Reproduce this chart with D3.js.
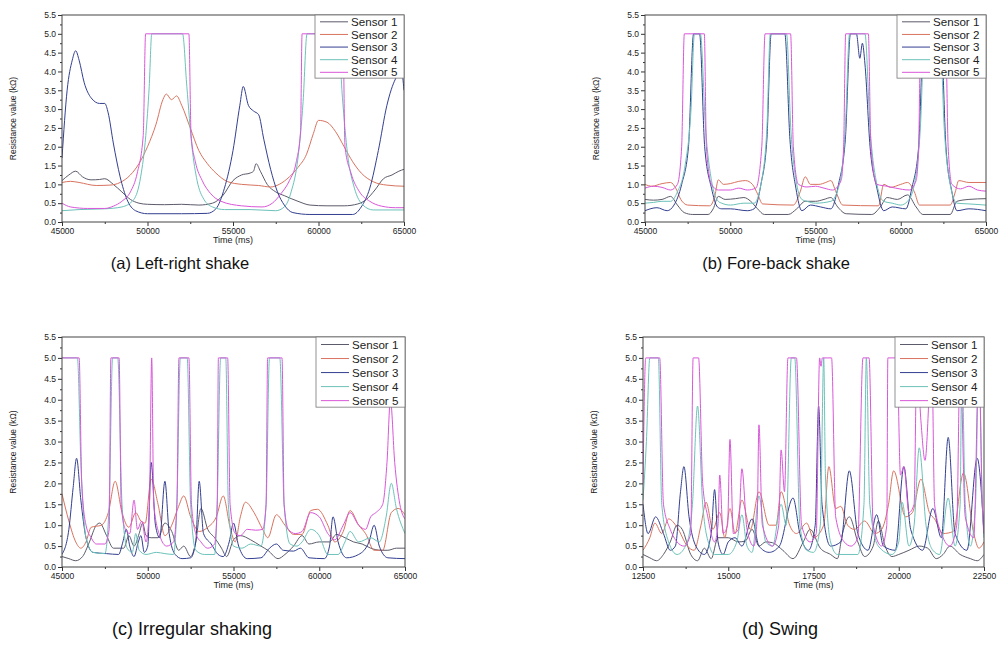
<!DOCTYPE html>
<html>
<head>
<meta charset="utf-8">
<script src="https://cdn.jsdelivr.net/npm/d3@7/dist/d3.min.js"></script>
<style>
  body { margin: 0; background: #fff; }
  svg { display: block; font-family: "Liberation Sans", Arial, sans-serif; }
  .tick text { fill: #222; }
</style>
</head>
<body>
<svg id="chart" width="1004" height="653"></svg>
<script>
// sensor names and colours
var sensorNames = ["Sensor 1", "Sensor 2", "Sensor 3", "Sensor 4", "Sensor 5"];
var sensorColors = ["#5b5b6b", "#d8735f", "#333f90", "#6cc2b9", "#d957d9"];

// ---- (a) Left-right shake : [time ms, resistance kOhm]
var a_s1 = [[45000,1.1],[45400,1.25],[45800,1.35],[46200,1.2],[46700,1.12],[47200,1.13],[47500,1.15],[48000,1.0],[48500,0.8],[49000,0.6],[49500,0.5],[50000,0.47],[51000,0.46],[52000,0.47],[53000,0.45],[53800,0.5],[54400,0.7],[55000,1.1],[55500,1.25],[56000,1.3],[56200,1.35],[56350,1.55],[56600,1.35],[57000,1.0],[57500,0.8],[58000,0.7],[58800,0.55],[59500,0.45],[60500,0.43],[61500,0.43],[62300,0.48],[62800,0.6],[63300,0.85],[63800,1.15],[64300,1.25],[64700,1.35],[65000,1.4]];
var a_s2 = [[45000,1.05],[45500,1.08],[46000,1.05],[47000,0.97],[47800,0.98],[48400,1.05],[49000,1.25],[49500,1.55],[50000,2.0],[50500,2.6],[50900,3.25],[51100,3.4],[51400,3.25],[51700,3.35],[52000,3.1],[52500,2.5],[53000,1.9],[53500,1.55],[54000,1.3],[54700,1.07],[55500,1.0],[56500,0.97],[57200,0.93],[57700,1.0],[58300,1.2],[58800,1.45],[59300,1.8],[59700,2.35],[60000,2.7],[60500,2.65],[61000,2.4],[61500,2.0],[62000,1.6],[62500,1.3],[63200,1.07],[64000,0.98],[65000,0.95]];
var a_s3 = [[45000,1.7],[45300,3.5],[45600,4.3],[45800,4.55],[46000,4.3],[46300,3.7],[46700,3.3],[47200,3.15],[47500,3.15],[47700,2.9],[48000,2.1],[48400,1.2],[48800,0.6],[49300,0.3],[50000,0.22],[52000,0.22],[53500,0.23],[54000,0.35],[54500,0.9],[55000,1.9],[55400,3.1],[55600,3.6],[55900,3.1],[56200,2.95],[56500,2.85],[56800,2.2],[57200,1.4],[57600,0.8],[58000,0.45],[58500,0.25],[59500,0.2],[62000,0.2],[62500,0.4],[63000,0.9],[63500,1.9],[64000,3.1],[64500,3.8],[64850,4.0],[65000,3.5]];
var a_s4 = [[45000,0.3],[46000,0.33],[47500,0.35],[48500,0.4],[49200,0.6],[49600,1.2],[49900,2.3],[50100,3.6],[50250,5.0],[52050,5.0],[52300,3.6],[52600,2.0],[52900,1.1],[53300,0.6],[53800,0.4],[54500,0.33],[56000,0.33],[57500,0.3],[58000,0.4],[58400,0.8],[58800,1.7],[59100,3.2],[59330,5.0],[61140,5.0],[61400,3.3],[61700,1.8],[62100,0.9],[62600,0.45],[63200,0.32],[65000,0.32]];
var a_s5 = [[45000,0.5],[45500,0.4],[46500,0.36],[47500,0.36],[48000,0.42],[48500,0.55],[49000,0.8],[49400,1.3],[49750,2.3],[49890,5.0],[52420,5.0],[52550,2.3],[52800,1.6],[53200,1.1],[53700,0.75],[54300,0.55],[55500,0.43],[56700,0.4],[57300,0.5],[57800,0.75],[58300,1.1],[58700,1.6],[58950,2.4],[59040,5.0],[61430,5.0],[61550,2.0],[61900,1.3],[62400,0.8],[63000,0.55],[63700,0.42],[64500,0.38],[65000,0.38]];

// ---- (b) Fore-back shake
var b_s1 = [[45000,0.6],[45500,0.58],[46000,0.6],[46500,0.68],[46900,0.45],[47300,0.25],[47800,0.2],[48700,0.2],[49000,0.35],[49300,0.68],[49700,0.6],[50300,0.62],[50800,0.65],[51200,0.55],[51600,0.35],[52000,0.2],[53400,0.2],[53900,0.35],[54400,0.55],[55000,0.55],[55500,0.6],[55900,0.65],[56300,0.4],[56800,0.22],[58300,0.2],[58800,0.4],[59200,0.65],[59800,0.6],[60400,0.72],[60900,0.4],[61300,0.2],[62900,0.2],[63300,0.55],[64000,0.6],[65000,0.62]];
var b_s2 = [[45000,1.0],[45400,0.95],[46000,1.02],[46500,1.05],[46800,0.9],[47100,0.6],[47500,0.45],[48800,0.43],[49100,0.7],[49300,1.12],[49600,1.0],[50000,1.02],[50500,1.08],[50900,1.1],[51300,1.0],[51600,0.75],[51900,0.48],[53700,0.45],[54100,0.8],[54400,1.2],[54700,1.0],[55200,1.0],[55600,1.05],[55900,1.1],[56200,0.8],[56600,0.45],[58700,0.43],[59000,1.0],[59400,0.92],[60000,1.0],[60400,1.05],[60800,0.8],[61100,0.45],[62900,0.45],[63200,0.8],[63400,1.1],[64000,1.05],[65000,1.05]];
var b_s3 = [[45000,0.3],[45700,0.38],[46300,0.3],[46700,0.45],[47150,1.0],[47550,2.0],[47850,5.0],[48200,5.0],[48500,2.0],[48900,0.9],[49250,0.4],[49500,0.35],[50000,0.35],[51000,0.3],[51400,0.35],[51800,1.0],[52150,2.2],[52400,5.0],[53200,5.0],[53500,2.2],[53850,0.9],[54200,0.3],[54700,0.45],[55300,0.4],[55900,0.35],[56350,1.0],[56750,2.2],[57050,5.0],[57400,5.0],[57600,4.35],[57750,4.75],[57900,4.2],[58200,2.0],[58600,0.9],[59000,0.3],[59500,0.4],[60300,0.35],[60650,0.9],[61050,2.0],[61350,5.0],[62350,5.0],[62650,2.0],[63000,0.8],[63300,0.3],[64000,0.35],[65000,0.3]];
var b_s4 = [[45000,0.5],[45500,0.52],[46000,0.55],[46500,0.55],[46900,0.8],[47350,1.5],[47700,3.0],[47900,5.0],[48250,5.0],[48550,2.5],[48900,1.1],[49300,0.55],[49500,0.5],[50000,0.45],[50800,0.5],[51400,0.5],[51800,1.0],[52150,2.5],[52350,5.0],[53300,5.0],[53550,2.5],[53900,1.0],[54200,0.6],[54500,0.55],[55000,0.5],[55900,0.55],[56400,1.0],[56750,2.5],[57000,5.0],[57900,5.0],[58200,2.5],[58600,1.0],[59000,0.55],[59500,0.5],[60000,0.45],[60400,0.55],[60800,1.0],[61150,2.5],[61400,5.0],[62300,5.0],[62550,2.5],[62900,1.0],[63300,0.5],[64000,0.48],[65000,0.45]];
var b_s5 = [[45000,0.9],[45500,0.95],[46000,0.92],[46500,0.85],[46900,1.0],[47150,2.0],[47307,5.0],[48480,5.0],[48600,2.0],[48900,1.0],[49300,0.85],[50000,0.85],[50500,0.9],[51000,0.85],[51500,0.9],[51850,2.0],[52040,5.0],[53540,5.0],[53700,2.0],[54000,1.0],[54500,0.93],[55000,0.95],[55500,0.9],[56000,0.85],[56500,1.1],[56650,2.0],[56770,5.0],[58100,5.0],[58250,2.0],[58600,1.0],[59200,0.95],[59700,0.9],[60500,0.85],[60900,1.1],[61050,2.0],[61170,5.0],[62630,5.0],[62780,2.0],[63000,1.0],[63500,0.88],[64000,0.95],[64500,0.85],[65000,0.82]];

// ---- (c) Irregular shaking
var c_s1 = [[45000,0.25],[45400,0.2],[45800,0.15],[46200,0.25],[46600,0.6],[47000,1.0],[47200,1.05],[47600,0.75],[48000,0.45],[48600,0.45],[48900,0.75],[49200,0.5],[49500,0.8],[49700,1.05],[49900,0.75],[50200,0.7],[50600,0.7],[51000,1.05],[51400,0.85],[51800,0.4],[52100,0.5],[52500,0.25],[52800,0.6],[53100,1.4],[53500,0.9],[53900,0.7],[54300,0.45],[54600,0.25],[55000,0.65],[55400,0.75],[56000,0.65],[56600,0.5],[57000,0.4],[57600,0.2],[58000,0.3],[58500,0.5],[59000,0.75],[59400,0.55],[60000,0.6],[60600,0.6],[61000,0.78],[61500,0.7],[62000,0.6],[62500,0.55],[63000,0.45],[63600,0.4],[64000,0.4],[64500,0.45],[65000,0.45]];
var c_s2 = [[45000,1.75],[45400,1.1],[45800,0.6],[46100,0.45],[46400,0.6],[46700,0.95],[47300,1.0],[47700,1.3],[48100,2.05],[48500,1.3],[48900,0.95],[49300,1.3],[49600,1.1],[49850,1.05],[50200,2.1],[50600,1.5],[51000,0.75],[51400,1.0],[51800,1.45],[52100,1.7],[52500,1.2],[53000,0.85],[53500,0.95],[54000,1.2],[54400,1.7],[54800,0.95],[55100,0.6],[55400,1.2],[55700,1.55],[56200,1.3],[56700,0.9],[57000,0.7],[57500,1.25],[58000,1.0],[58500,0.78],[59000,0.78],[59500,1.35],[59900,1.38],[60500,1.0],[60900,0.6],[61400,0.85],[61800,1.35],[62300,1.0],[62700,0.8],[63200,0.4],[63700,0.4],[64200,1.3],[64600,1.4],[65000,1.25]];
var c_s3 = [[45000,0.3],[45400,0.9],[45650,1.9],[45850,2.6],[46100,1.6],[46400,0.7],[46800,0.35],[47600,0.32],[48300,0.3],[48550,0.6],[48750,0.9],[48950,0.5],[49200,0.25],[49450,0.6],[49600,0.75],[49800,0.35],[50000,0.5],[50200,2.5],[50450,1.0],[50700,0.7],[51000,2.05],[51250,0.8],[51600,0.3],[52000,0.2],[52500,0.22],[52800,0.6],[53000,2.05],[53250,0.8],[53700,0.55],[54100,0.3],[54400,0.25],[54750,0.6],[55000,1.05],[55300,0.5],[55800,0.2],[56600,0.22],[57100,0.45],[57500,0.55],[57900,0.4],[58500,0.38],[58900,0.45],[59400,0.22],[60300,0.2],[60600,0.5],[60800,1.2],[61100,0.6],[61600,0.22],[62300,0.3],[62900,0.6],[63200,1.0],[63500,0.5],[64000,0.22],[65000,0.2]];
var c_s4 = [[45000,5.0],[45900,5.0],[46100,2.5],[46400,0.7],[46800,0.35],[47500,0.32],[47750,1.5],[47950,5.0],[48250,5.0],[48500,1.5],[48800,0.45],[49100,0.35],[49300,0.8],[49500,0.4],[49900,0.3],[50500,0.35],[51000,0.32],[51500,0.3],[51700,1.5],[51900,5.0],[52300,5.0],[52500,1.5],[52800,0.4],[53300,0.3],[53900,0.3],[54050,1.5],[54250,5.0],[54550,5.0],[54700,1.5],[55000,0.5],[55500,0.45],[56000,0.55],[56600,0.5],[56900,1.5],[57100,5.0],[57700,5.0],[57950,1.5],[58300,0.55],[58700,0.5],[59000,0.6],[59500,0.9],[60000,0.75],[60500,0.3],[61100,0.3],[61500,0.6],[61800,0.85],[62300,0.6],[63000,0.7],[63500,0.6],[63900,1.2],[64200,2.0],[64500,1.4],[65000,0.8]];
var c_s5 = [[45000,5.0],[46000,5.0],[46150,2.0],[46400,1.0],[46700,0.7],[47000,0.55],[47500,0.55],[47750,0.9],[47850,5.0],[48330,5.0],[48450,1.5],[48700,0.9],[48950,0.8],[49200,1.6],[49400,0.9],[49650,1.1],[49900,0.6],[50100,1.5],[50230,5.0],[50350,1.5],[50700,0.75],[51100,0.5],[51500,0.6],[51700,1.5],[51820,5.0],[52400,5.0],[52550,1.5],[52800,0.8],[53100,0.6],[53500,0.45],[53900,0.55],[54050,1.5],[54120,5.0],[54660,5.0],[54800,1.5],[55100,0.8],[55400,0.75],[55800,0.9],[56300,0.88],[56700,0.9],[56900,1.5],[56990,5.0],[57830,5.0],[57950,1.5],[58200,0.9],[58600,0.8],[59000,0.85],[59500,1.3],[60000,1.2],[60500,0.8],[60900,0.65],[61400,1.0],[61800,1.3],[62300,1.0],[62700,0.9],[63000,1.2],[63300,1.3],[63700,1.5],[63950,2.5],[64150,4.0],[64400,2.5],[64700,1.5],[65000,1.15]];

// ---- (d) Swing
var d_s1 = [[12500,0.3],[12700,0.22],[12900,0.15],[13100,0.3],[13300,0.6],[13500,1.0],[13650,0.9],[13900,0.3],[14100,0.15],[14300,0.45],[14500,0.2],[14700,0.7],[15000,0.7],[15300,0.6],[15500,0.62],[15700,0.9],[15900,0.5],[16100,0.6],[16300,0.58],[16600,0.4],[16900,0.2],[17200,0.6],[17400,0.9],[17700,0.45],[18000,0.3],[18200,0.2],[18350,0.8],[18550,1.2],[18800,0.6],[19000,0.25],[19250,0.5],[19400,1.1],[19600,0.5],[19800,0.25],[20000,0.3],[20300,0.4],[20600,0.5],[20850,0.45],[21100,0.2],[21300,0.3],[21500,0.5],[21800,0.3],[22100,0.2],[22300,0.15],[22500,0.3]];
var d_s2 = [[12500,0.4],[12700,0.7],[12850,1.05],[13050,0.8],[13250,1.15],[13500,0.95],[13800,0.5],[14000,0.4],[14200,1.0],[14350,1.55],[14550,0.9],[14750,1.3],[14900,0.7],[15050,1.4],[15200,0.8],[15400,1.6],[15650,0.9],[15900,1.8],[16200,1.0],[16400,1.0],[16550,1.8],[16800,1.0],[17000,0.8],[17300,1.05],[17500,0.7],[17800,1.0],[17950,2.4],[18150,1.4],[18300,1.45],[18500,1.0],[18700,0.9],[19000,1.1],[19300,0.8],[19500,0.9],[19700,1.5],[19850,2.3],[20200,1.2],[20400,1.3],[20650,2.1],[20900,1.3],[21050,1.15],[21300,0.8],[21600,0.85],[21900,2.25],[22200,0.8],[22350,0.45],[22500,0.6]];
var d_s3 = [[12500,1.5],[12650,0.8],[12870,1.2],[13100,0.8],[13300,0.4],[13450,0.5],[13600,1.8],[13700,2.4],[13850,1.2],[14050,0.5],[14300,0.3],[14500,0.8],[14600,1.85],[14700,0.6],[14850,0.3],[15000,0.6],[15200,0.7],[15400,0.5],[15700,1.15],[15900,0.5],[16200,0.35],[16500,0.5],[16900,1.65],[17100,0.8],[17350,0.4],[17550,1.0],[17650,3.85],[17750,1.5],[18000,0.5],[18300,0.6],[18550,2.3],[18800,0.8],[19100,0.4],[19350,1.25],[19550,0.5],[19900,0.4],[20150,2.4],[20350,0.9],[20700,0.4],[21000,1.4],[21250,0.7],[21450,3.1],[21650,0.8],[22000,0.4],[22300,2.6],[22500,0.8]];
var d_s4 = [[12500,1.6],[12600,3.0],[12700,5.0],[12950,5.0],[13050,1.5],[13250,0.6],[13500,0.3],[13800,0.6],[13950,1.5],[14100,3.85],[14250,1.5],[14450,0.5],[14600,0.3],[15000,0.3],[15250,0.6],[15400,1.25],[15550,0.5],[15700,0.35],[15900,1.7],[16100,0.6],[16300,0.5],[16550,1.5],[16700,1.0],[16850,5.0],[16950,5.0],[17100,1.0],[17300,0.4],[17500,0.35],[17700,1.0],[17800,5.0],[17850,2.2],[18000,0.6],[18200,0.3],[18800,0.3],[18980,1.5],[19050,5.0],[19150,1.5],[19400,0.5],[19800,0.3],[20000,0.6],[20100,1.55],[20300,0.5],[20450,1.0],[20600,2.85],[20800,1.0],[21000,0.4],[21200,0.3],[21450,1.65],[21650,0.5],[21800,1.5],[21850,5.0],[21950,1.5],[22100,0.5],[22250,1.5],[22350,5.0],[22450,1.5],[22500,0.7]];
var d_s5 = [[12500,2.0],[12580,5.0],[12990,5.0],[13100,1.5],[13300,0.9],[13500,0.6],[13700,0.5],[13900,0.8],[13970,5.0],[14130,5.0],[14250,2.0],[14400,1.2],[14600,0.6],[14700,1.0],[14750,2.2],[14850,0.8],[14980,1.0],[15050,3.05],[15150,0.8],[15300,0.9],[15400,2.35],[15550,0.9],[15750,0.5],[15850,1.2],[15900,3.4],[16000,1.0],[16300,0.5],[16480,1.0],[16550,2.8],[16650,1.8],[16750,5.0],[17000,5.0],[17150,1.0],[17400,0.6],[17580,0.8],[17680,5.0],[17720,4.8],[17760,5.0],[18030,5.0],[18150,1.2],[18400,0.6],[18600,0.5],[18800,0.7],[18950,5.0],[19130,5.0],[19250,1.0],[19500,0.5],[19650,1.0],[19680,5.0],[19950,5.0],[20050,2.2],[20150,2.4],[20300,1.3],[20450,1.5],[20530,5.0],[20650,3.5],[20770,2.55],[20970,5.0],[21050,1.5],[21300,0.7],[21500,0.5],[21700,1.0],[21800,5.0],[21950,1.2],[22200,0.7],[22350,5.0],[22450,1.5],[22500,0.8]];

// tick values
var yTicks = [0, 0.5, 1.0, 1.5, 2.0, 2.5, 3.0, 3.5, 4.0, 4.5, 5.0, 5.5];
var xTicksShake = [45000, 50000, 55000, 60000, 65000];
var xTicksSwing = [12500, 15000, 17500, 20000, 22500];

var panels = [
  { id: "a", caption: "(a) Left-right shake", series: [a_s1, a_s2, a_s3, a_s4, a_s5],
    left: 62, right: 404, top: 15, bottom: 222, xTicks: xTicksShake, capX: 180, capY: 269, capSize: 16.5 },
  { id: "b", caption: "(b) Fore-back shake", series: [b_s1, b_s2, b_s3, b_s4, b_s5],
    left: 645, right: 986, top: 15, bottom: 222, xTicks: xTicksShake, capX: 776, capY: 269, capSize: 16.5 },
  { id: "c", caption: "(c) Irregular shaking", series: [c_s1, c_s2, c_s3, c_s4, c_s5],
    left: 62, right: 405, top: 337, bottom: 567, xTicks: xTicksShake, capX: 192, capY: 635, capSize: 18 },
  { id: "d", caption: "(d) Swing", series: [d_s1, d_s2, d_s3, d_s4, d_s5],
    left: 643, right: 984, top: 337, bottom: 567, xTicks: xTicksSwing, capX: 780, capY: 635, capSize: 18 }
];

var svg = d3.select("#chart");

panels.forEach(function(p) {
  var w = p.right - p.left, h = p.bottom - p.top;
  var x = d3.scaleLinear()
      .domain([p.xTicks[0], p.xTicks[p.xTicks.length - 1]])
      .range([0, w]);
  var y = d3.scaleLinear().domain([0, 5.5]).range([h, 0]);

  var g = svg.append("g").attr("transform", "translate(" + p.left + "," + p.top + ")");

  g.append("clipPath").attr("id", "clip-" + p.id)
    .append("rect").attr("width", w).attr("height", h);

  // minor ticks (halfway between majors)
  var xStep = p.xTicks[1] - p.xTicks[0];
  var xMinor = p.xTicks.slice(0, -1).map(function(t) { return t + xStep / 2; });
  var yMinor = yTicks.slice(0, -1).map(function(t) { return t + 0.25; });

  g.append("g").attr("transform", "translate(0," + h + ")")
    .call(d3.axisBottom(x).tickValues(xMinor).tickSize(2).tickFormat(""))
    .call(function(s) { s.select(".domain").remove(); });
  g.append("g")
    .call(d3.axisLeft(y).tickValues(yMinor).tickSize(2).tickFormat(""))
    .call(function(s) { s.select(".domain").remove(); });

  var xAxis = g.append("g").attr("transform", "translate(0," + h + ")")
    .call(d3.axisBottom(x).tickValues(p.xTicks).tickSize(4).tickPadding(2).tickFormat(d3.format("d")));
  xAxis.select(".domain").remove();
  xAxis.selectAll("text").style("font-size", "8.5px");

  var yAxis = g.append("g")
    .call(d3.axisLeft(y).tickValues(yTicks).tickSize(4).tickPadding(2).tickFormat(d3.format(".1f")));
  yAxis.select(".domain").remove();
  yAxis.selectAll("text").style("font-size", "8.5px");

  g.selectAll(".tick line").attr("stroke", "#333");

  // data lines
  var line = d3.line()
      .x(function(d) { return x(d[0]); })
      .y(function(d) { return y(d[1]); })
      .curve(d3.curveMonotoneX);

  var lines = g.append("g").attr("clip-path", "url(#clip-" + p.id + ")");
  p.series.forEach(function(s, i) {
    lines.append("path")
      .datum(s)
      .attr("d", line)
      .attr("fill", "none")
      .attr("stroke", sensorColors[i])
      .attr("stroke-width", 1);
  });

  // frame
  g.append("rect").attr("width", w).attr("height", h)
    .attr("fill", "none").attr("stroke", "#444").attr("stroke-width", 1);

  // legend
  var lw = 89, lh = h * 0.305, rowH = lh / 5;
  var leg = g.append("g").attr("transform", "translate(" + (w - lw) + ",0)");
  leg.append("rect").attr("width", lw).attr("height", lh)
    .attr("fill", "#fff").attr("stroke", "#777").attr("stroke-width", 0.8);
  sensorNames.forEach(function(n, i) {
    var cy = rowH * (i + 0.5) + 0.5;
    leg.append("line").attr("x1", 5).attr("x2", 33).attr("y1", cy).attr("y2", cy)
      .attr("stroke", sensorColors[i]).attr("stroke-width", 1);
    leg.append("text").attr("x", 36).attr("y", cy).attr("dy", "0.36em")
      .style("font-size", Math.min(rowH * 0.92, 11.6) + "px").attr("fill", "#222").text(n);
  });

  // axis titles
  svg.append("text")
    .attr("transform", "translate(" + (p.left - 46) + "," + (p.top + h / 2) + ") rotate(-90)")
    .attr("text-anchor", "middle").style("font-size", "8.5px").attr("fill", "#222")
    .text("Resistance value (k\u03A9)");
  svg.append("text")
    .attr("x", p.left + w / 2).attr("y", p.bottom + 21)
    .attr("text-anchor", "middle").style("font-size", "9px").attr("fill", "#222")
    .text("Time (ms)");

  // caption
  svg.append("text")
    .attr("x", p.capX).attr("y", p.capY)
    .attr("text-anchor", "middle").style("font-size", p.capSize + "px").attr("fill", "#111")
    .text(p.caption);
});
</script>
</body>
</html>
